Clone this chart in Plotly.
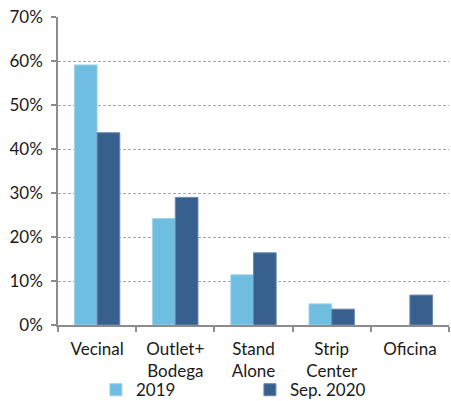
import plotly.graph_objects as go

# Share of stores by format
categories = ["Vecinal", "Outlet+<br>Bodega", "Stand<br>Alone", "Strip<br>Center", "Oficina"]
share_2019 = [0.591, 0.242, 0.114, 0.048, 0.0]
share_sep_2020 = [0.437, 0.290, 0.164, 0.036, 0.068]
y_ticks = [0, 0.1, 0.2, 0.3, 0.4, 0.5, 0.6, 0.7]

LIGHT = "#6FBDE0"
DARK = "#37608F"
AXIS = "#8C8C8C"
FONT = "Lato"
TXT = "#1a1a1a"

# no outline on empty bars
edge_2019 = [1 if v > 0 else 0 for v in share_2019]
edge_2020 = [1 if v > 0 else 0 for v in share_sep_2020]

fig = go.Figure()
fig.add_trace(go.Bar(
    x=categories, y=share_2019, name="2019",
    marker=dict(color=LIGHT, line=dict(color="#9FD2EA", width=edge_2019)),
))
fig.add_trace(go.Bar(
    x=categories, y=share_sep_2020, name="Sep. 2020",
    marker=dict(color=DARK, line=dict(color="#6A88AC", width=edge_2020)),
))

fig.update_layout(
    width=451, height=401,
    margin=dict(l=58, r=2, t=17, b=76, autoexpand=False),
    paper_bgcolor="white", plot_bgcolor="white",
    font=dict(family=FONT, size=17, color=TXT),
    barmode="group", bargap=0.42, bargroupgap=0,
    showlegend=True,
    legend=dict(
        orientation="h", xref="paper", x=0.097, xanchor="left",
        yref="container", y=0.027, yanchor="middle",
        font=dict(family=FONT, size=17, color=TXT),
        entrywidth=109, entrywidthmode="pixels",
        itemwidth=30, tracegroupgap=0,
        bgcolor="rgba(0,0,0,0)",
    ),
)

fig.update_xaxes(
    showline=True, linecolor=AXIS, linewidth=1.5,
    ticks="outside", ticklen=5, tickcolor=AXIS, tickwidth=1.5,
    tickson="boundaries", showgrid=False, ticklabelstandoff=8,
    tickfont=dict(family=FONT, size=17, color=TXT),
)
fig.update_yaxes(
    range=[0, 0.7], tickvals=y_ticks, tickformat=".0%",
    showline=True, linecolor=AXIS, linewidth=1.5,
    ticks="outside", ticklen=5, tickcolor=AXIS, tickwidth=1.5,
    ticklabelstandoff=5,
    showgrid=True, gridcolor="#A6A6A6", gridwidth=1, griddash="3px,2px",
    zeroline=False,
    tickfont=dict(family=FONT, size=17, color=TXT),
)

fig.write_html("out.html")
